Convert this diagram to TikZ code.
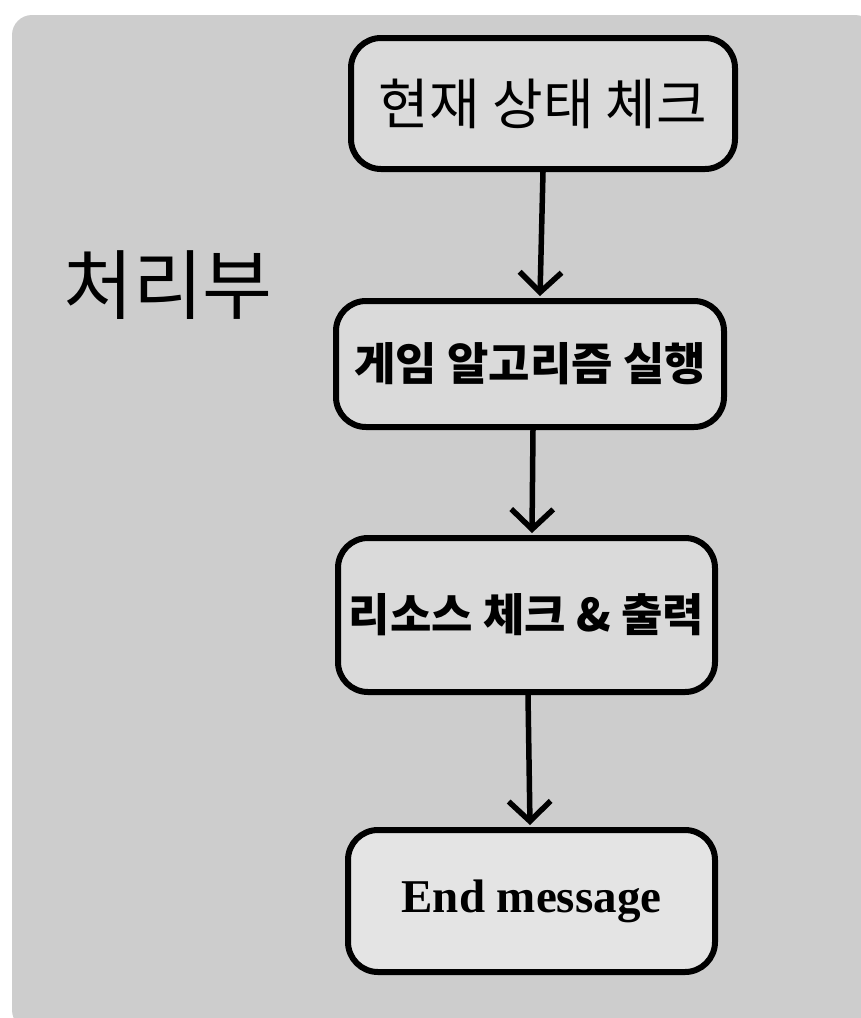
\documentclass[tikz,border=0pt]{standalone}
\usepackage{fontspec}
\setmainfont{Liberation Serif}
\newfontfamily\kr{Noto Sans CJK KR}
\usetikzlibrary{arrows.meta}
\definecolor{bgc}{HTML}{CDCDCD}
\definecolor{boxc}{HTML}{DADADA}
\definecolor{boxd}{HTML}{E4E4E4}
\tikzset{
  stepbox/.style={draw=black, line width=6pt, rounded corners=30pt, fill=boxc, inner sep=0pt, align=center},
  arr/.style={line width=5.5pt, -{Straight Barb[length=20pt,width=42pt,line width=5.5pt]}},
}
\begin{document}
\begin{tikzpicture}[x=1pt,y=-1pt]
\useasboundingbox (0,0) rectangle (860,1018);
\fill[white] (0,0) rectangle (860,1018);
\fill[bgc, rounded corners=20pt] (12,15) rectangle (875,1030);
\node[stepbox, minimum width=384pt, minimum height=131pt] (b1) at (543,103.5)
  {\kr\fontsize{55}{60}\selectfont 현재 상태 체크};
\node[stepbox, minimum width=388pt, minimum height=126pt] (b2) at (530,364)
  {\kr\bfseries\fontsize{45}{50}\selectfont 게임 알고리즘 실행};
\node[stepbox, minimum width=377pt, minimum height=154pt] (b3) at (526.5,615)
  {\kr\bfseries\fontsize{45}{50}\selectfont 리소스 체크 \& 출력};
\node[stepbox, fill=boxd, minimum width=367pt, minimum height=142pt] (b4) at (531.5,901)
  {\bfseries\fontsize{47}{52}\selectfont End message};
\node (lbl) at (168,285) {\kr\fontsize{76}{84}\selectfont 처리부};
\coordinate (a1s) at (543,172);
\coordinate (a1e) at (540,296);
\coordinate (a2s) at (533,430);
\coordinate (a2e) at (532,533);
\coordinate (a3s) at (528,695);
\coordinate (a3e) at (530,825);
\draw[arr] (a1s) -- (a1e);
\draw[arr] (a2s) -- (a2e);
\draw[arr] (a3s) -- (a3e);
\end{tikzpicture}
\end{document}
